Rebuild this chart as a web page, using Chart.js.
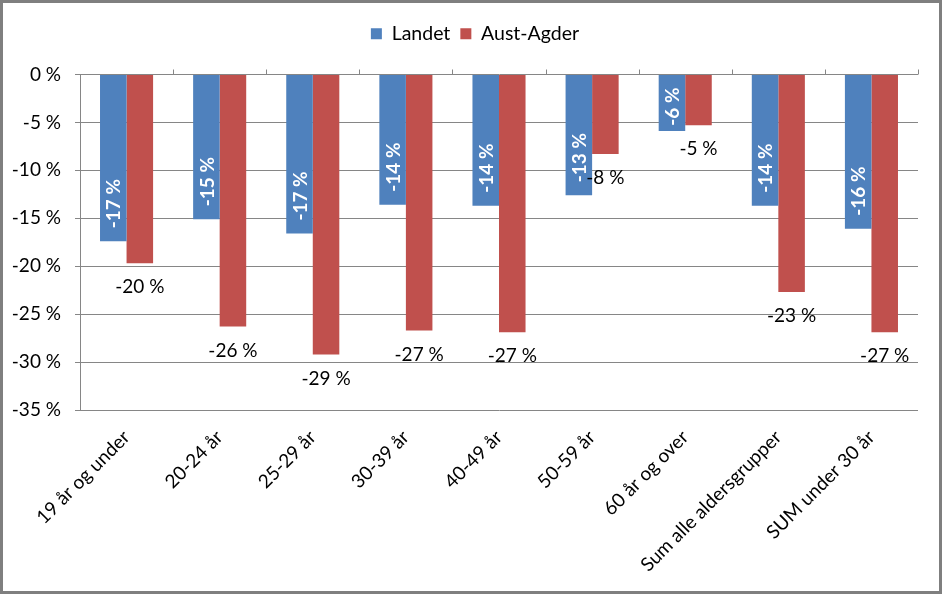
<!DOCTYPE html>
<html>
<head>
<meta charset="utf-8">
<script src="https://cdn.jsdelivr.net/npm/chart.js@4"></script>
<style>
  html, body { margin: 0; padding: 0; background: #fff; }
  canvas { display: block; }
</style>
</head>
<body>
<canvas id="chart" width="942" height="594"></canvas>
<script>
const categories = ['19 år og under', '20-24 år', '25-29 år', '30-39 år', '40-49 år',
  '50-59 år', '60 år og over', 'Sum alle aldersgrupper', 'SUM under 30 år'];
const landet = [-17.4, -15.1, -16.6, -13.6, -13.7, -12.6, -5.9, -13.7, -16.1];
const austAgder = [-19.7, -26.3, -29.2, -26.7, -26.9, -8.3, -5.3, -22.7, -26.9];
const yTicks = [0, -5, -10, -15, -20, -25, -30, -35];

const FONT = 'Lato, "Noto Sans", sans-serif';
const GRID = '#868686';

const pct = v => `${Math.round(v)} %`;

// white background + grey frame like the Excel chart
const framePlugin = {
  id: 'frame',
  beforeDraw(chart) {
    const { ctx, width, height } = chart;
    ctx.save();
    ctx.fillStyle = '#fff';
    ctx.fillRect(0, 0, width, height);
    ctx.strokeStyle = '#7f7f7f';
    ctx.lineWidth = 3;
    ctx.strokeRect(1.5, 1.5, width - 3, height - 3);
    ctx.restore();
  }
};

// extra room under the legend, and centre it on the whole picture
const legendGap = {
  id: 'legendGap',
  afterInit(chart) {
    const fit = chart.legend.fit;
    chart.legend.fit = function () { fit.call(this); this.height += 21; };
  },
  afterLayout(chart) {
    chart.legend.left += 16;
    chart.legend.right += 16;
  }
};

// small tick marks on the 0 % line between categories
const catTicks = {
  id: 'catTicks',
  afterDraw(chart) {
    const { ctx, chartArea } = chart;
    const x = chart.scales.x;
    ctx.save();
    ctx.strokeStyle = GRID;
    ctx.lineWidth = 1;
    ctx.beginPath();
    for (let i = 0; i < categories.length; i++) {
      const bx = i < categories.length - 1
        ? (x.getPixelForTick(i) + x.getPixelForTick(i + 1)) / 2
        : chartArea.right;
      const px = Math.round(bx) + 0.5;
      ctx.moveTo(px, chartArea.top);
      ctx.lineTo(px, chartArea.top - 5);
    }
    ctx.stroke();
    ctx.restore();
  }
};

const valueLabels = {
  id: 'valueLabels',
  afterDatasetsDraw(chart) {
    const ctx = chart.ctx;
    const base = chart.scales.y.getPixelForValue(0);
    ctx.save();
    // Landet: white bold, rotated, inside the bar end
    ctx.font = `bold 19px ${FONT}`;
    ctx.fillStyle = '#fff';
    ctx.textAlign = 'left';
    ctx.textBaseline = 'middle';
    chart.getDatasetMeta(0).data.forEach((bar, i) => {
      const txt = pct(landet[i]);
      const w = ctx.measureText(txt).width;
      const h = bar.y - base;
      const off = Math.max(2, Math.min(13, h - w - 13));
      ctx.save();
      ctx.translate(bar.x, bar.y - off);
      ctx.rotate(-Math.PI / 2);
      ctx.fillText(txt, 0, 1);
      ctx.restore();
    });
    // Aust-Agder: black, below the bar end
    ctx.font = `19px ${FONT}`;
    ctx.fillStyle = '#000';
    ctx.textAlign = 'center';
    chart.getDatasetMeta(1).data.forEach((bar, i) => {
      ctx.fillText(pct(austAgder[i]), bar.x, bar.y + 24);
    });
    ctx.restore();
  }
};

new Chart(document.getElementById('chart').getContext('2d'), {
  type: 'bar',
  data: {
    labels: categories,
    datasets: [
      { label: 'Landet', data: landet, backgroundColor: '#4f81bd' },
      { label: 'Aust-Agder', data: austAgder, backgroundColor: '#c0504d' }
    ]
  },
  options: {
    responsive: false,
    animation: false,
    categoryPercentage: 0.57,
    barPercentage: 1.0,
    layout: { padding: { top: 14, right: 24, left: 0, bottom: 0 } },
    plugins: {
      legend: {
        position: 'top',
        labels: {
          color: '#000',
          font: { family: FONT, size: 19.5 },
          boxWidth: 11,
          boxHeight: 11,
          padding: 10
        }
      },
      tooltip: { enabled: false }
    },
    scales: {
      x: {
        grid: { display: false },
        border: { display: false },
        ticks: {
          color: '#000',
          font: { family: FONT, size: 19 },
          minRotation: 45,
          maxRotation: 45,
          autoSkip: false,
          padding: 8
        },
        afterFit: s => { s.height = 184; }
      },
      y: {
        min: -35,
        max: 0,
        afterBuildTicks: s => { s.ticks = yTicks.map(v => ({ value: v })); },
        grid: { color: GRID, tickLength: 5, drawTicks: true },
        border: { color: GRID },
        ticks: {
          color: '#000',
          font: { family: FONT, size: 19 },
          padding: 14,
          callback: v => `${v} %`
        },
        afterFit: s => { s.width = 80; }
      }
    }
  },
  plugins: [framePlugin, legendGap, catTicks, valueLabels]
});
</script>
</body>
</html>
